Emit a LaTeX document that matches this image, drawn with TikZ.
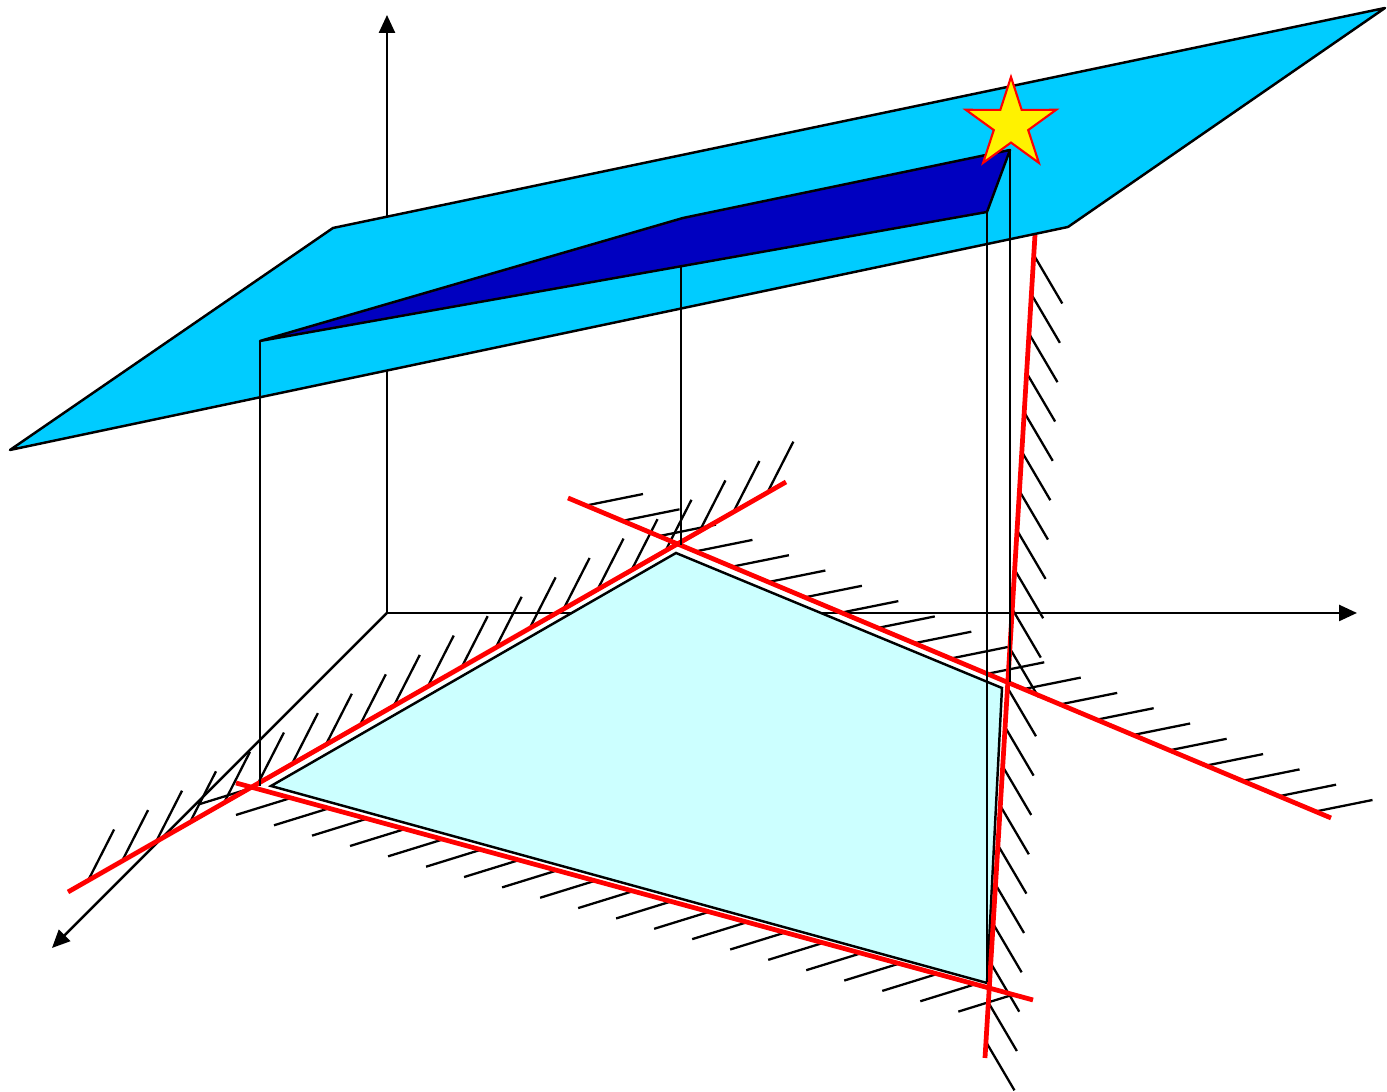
\documentclass[tikz,border=0pt]{standalone}
\usepackage{tikz}
\usetikzlibrary{arrows.meta,calc}
\definecolor{planebg}{RGB}{0,204,255}
\definecolor{facebg}{RGB}{0,0,192}
\definecolor{feasbg}{RGB}{204,255,255}
\tikzset{
  axis/.style={-{Triangle[length=1.8mm,width=1.6mm]},line width=0.7pt},
  plane/.style={fill=planebg,draw=black,line width=0.7pt,line join=round},
  face/.style={fill=facebg,draw=black,line width=0.7pt,line join=round},
  feas/.style={fill=feasbg,draw=black,line width=0.7pt},
  bound/.style={red,line width=1.35pt},
  hatch/.style={black,line width=0.65pt},
  proj/.style={black,line width=0.65pt},
  optstar/.style={fill=yellow,draw=red,line width=0.6pt,line join=miter},
}
\begin{document}
\begin{tikzpicture}
  \useasboundingbox (0,0) rectangle (13.87,10.92);
  % axes
  \coordinate (O) at (3.87,4.79);
  \draw[axis] (O) -- (3.87,10.77);
  \draw[axis] (O) -- (13.57,4.79);
  \draw[axis] (O) -- (0.52,1.44);
  % feasible region
  \draw[feas] (2.71,3.06) -- (6.76,5.39) -- (10.02,4.04) -- (9.87,1.09) -- cycle;
  % constraint lines and their hatching
  \coordinate (l1a) at (0.68,2.00);   \coordinate (l1b) at (7.86,6.10);
  \coordinate (l2a) at (5.68,5.94);   \coordinate (l2b) at (13.31,2.74);
  \coordinate (l3a) at (10.35,8.57);  \coordinate (l3b) at (9.85,0.34);
  \coordinate (l4a) at (2.36,3.09);   \coordinate (l4b) at (10.33,0.92);
  \foreach \i in {0,...,20} {
    \pgfmathsetmacro\ta{0.028+\i*0.0473}
    \draw[hatch] ($(l1a)!\ta!(l1b)$) -- ++(0.26,0.51);
    \pgfmathsetmacro\tb{0.0236+\i*0.0478}
    \draw[hatch] ($(l2a)!\tb!(l2b)$) -- ++(0.57,0.115);
    \pgfmathsetmacro\tc{0.0243+\i*0.0478}
    \draw[hatch] ($(l3a)!\tc!(l3b)$) -- ++(0.285,-0.485);
    \pgfmathsetmacro\td{0.0213+\i*0.0477}
    \draw[hatch] ($(l4a)!\td!(l4b)$) -- ++(-0.55,-0.17);
  }
  \draw[bound] (l1a) -- (l1b);
  \draw[bound] (l2a) -- (l2b);
  \draw[bound] (l3a) -- (l3b);
  \draw[bound] (l4a) -- (l4b);
  % objective plane
  \draw[plane] (0.10,6.42) -- (3.33,8.64) -- (13.85,10.84) -- (10.68,8.65) -- cycle;
  \draw[face] (2.60,7.51) -- (6.83,8.74) -- (10.10,9.42) -- (9.87,8.80) -- cycle;
  % projections
  \draw[proj] (2.60,7.51) -- (2.60,3.06);
  \draw[proj] (6.81,8.26) -- (6.81,5.47);
  \draw[proj] (9.87,8.80) -- (9.87,1.10);
  \draw[proj] (10.10,9.42) -- (10.10,4.10);
  % optimum
  \draw[optstar,shift={(10.11,9.675)}] (90:0.475) -- (126:0.181) -- (162:0.475) -- (198:0.181)
    -- (234:0.475) -- (270:0.181) -- (306:0.475) -- (342:0.181) -- (18:0.475) -- (54:0.181) -- cycle;
\end{tikzpicture}
\end{document}
